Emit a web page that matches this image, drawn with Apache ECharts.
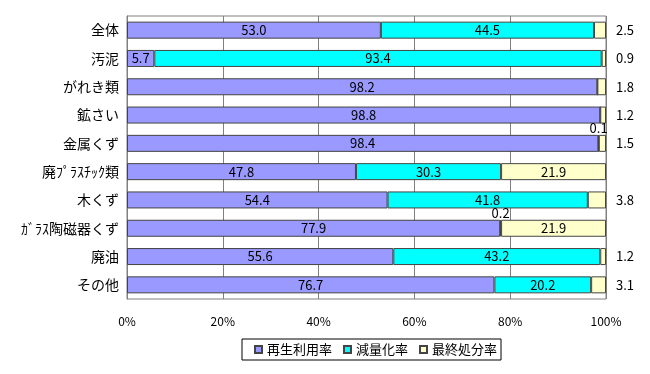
<!DOCTYPE html>
<html><head><meta charset="utf-8">
<script src="https://cdn.jsdelivr.net/npm/echarts@6/dist/echarts.min.js"></script>
<style>html,body{margin:0;padding:0;background:#fff}#c{width:650px;height:374px}</style>
</head><body><div id="c"></div>
<script>
const categories = ['全体','汚泥','がれき類','鉱さい','金属くず','廃ﾌﾟﾗｽﾁｯｸ類','木くず','ｶﾞﾗｽ陶磁器くず','廃油','その他'];
const recycle = [53.0, 5.7, 98.2, 98.8, 98.4, 47.8, 54.4, 77.9, 55.6, 76.7];
const reduction = [44.5, 93.4, 0, 0, 0.1, 30.3, 41.8, 0.2, 43.2, 20.2];
const disposal = [2.5, 0.9, 1.8, 1.2, 1.5, 21.9, 3.8, 21.9, 1.2, 3.1];
const xTicks = ['0%','20%','40%','60%','80%','100%'];

const font = '"Noto Sans CJK JP", sans-serif';
const lbl = {color:'#000', fontFamily:font, fontSize:13};

function build(vals, kind){
  return vals.map(v=>{
    if(v===0) return {value:v, label:{show:false}};
    let label;
    if(v>=5) label = Object.assign({show:true, position:'inside', formatter:v.toFixed(1)}, lbl);
    else if(kind==='disposal') label = Object.assign({show:true, position:'right', distance:10, formatter:v.toFixed(1)}, lbl);
    else label = Object.assign({show:true, position:'top', distance:0, formatter:v.toFixed(1)}, lbl);
    return {value:v, label};
  });
}

const chart = echarts.init(document.getElementById('c'));
const mk = (name, vals, color, kind)=>({
  name, type:'bar', stack:'t', barWidth:17, data:build(vals, kind),
  itemStyle:{color, borderColor:'#444', borderWidth:1}
});
chart.setOption({
  animation:false,
  textStyle:{fontFamily:font},
  grid:{left:127, right:44, top:16, bottom:75, show:true, borderColor:'#808080', borderWidth:1},
  xAxis:{type:'value', min:0, max:100, interval:20,
    axisLabel:{formatter:(v)=>xTicks[v/20], color:'#000', fontSize:12, fontFamily:font, margin:16},
    axisLine:{show:false}, axisTick:{show:false},
    splitLine:{show:true, lineStyle:{color:'#808080'}}},
  yAxis:{type:'category', data:categories, inverse:true,
    axisLabel:{color:'#000', fontSize:14, fontFamily:font, margin:8},
    axisLine:{lineStyle:{color:'#808080'}},
    axisTick:{inside:true, length:4, lineStyle:{color:'#808080'}}},
  legend:{top:339, left:242, itemWidth:7, itemHeight:7, itemGap:11,
    borderColor:'#000', borderWidth:1, padding:[4,4,4,12],
    textStyle:{color:'#000', fontSize:13, fontFamily:font},
    data:[{name:'再生利用率', icon:'rect'},{name:'減量化率', icon:'rect'},{name:'最終処分率', icon:'rect'}]},
  series:[
    mk('再生利用率', recycle, '#9999FF', 'recycle'),
    mk('減量化率', reduction, '#00FFFF', 'reduction'),
    mk('最終処分率', disposal, '#FFFFCC', 'disposal')
  ]
});
</script></body></html>
